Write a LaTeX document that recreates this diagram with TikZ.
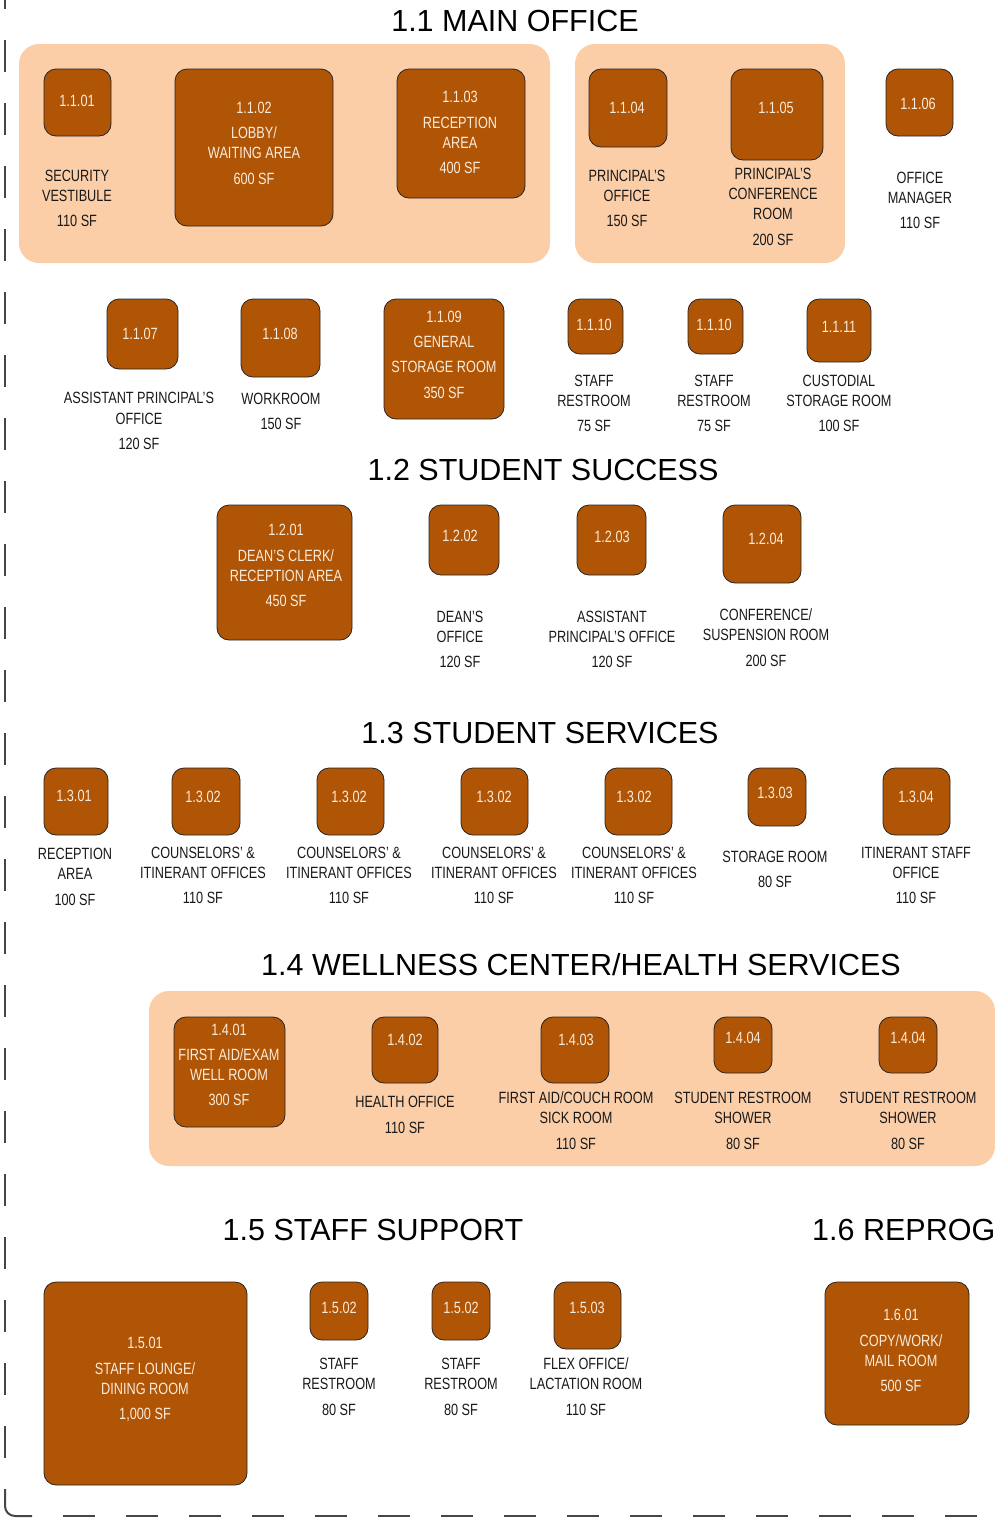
\documentclass[tikz,border=0pt]{standalone}
\usepackage{fontspec}
\setmainfont{Liberation Sans}[FakeStretch=0.78]
\newfontfamily\titlefont{Liberation Sans}
\definecolor{boxc}{RGB}{176,84,5}
\definecolor{panelc}{RGB}{252,206,168}
\definecolor{intextc}{RGB}{250,236,220}
\definecolor{labelc}{RGB}{25,25,25}
\definecolor{borderc}{RGB}{70,70,70}
\newcommand\lblfont{\fontsize{16.3}{20}\selectfont}
\newcommand\roombox[5]{\node[room, minimum width=#4pt, minimum height=#5pt] (#1) at (#2,#3) {};}
\newcommand\rtext[4]{\node[intext] (#1) at (#2,#3-6) {#4};}
\newcommand\rlabel[4]{\node[lbl] (#1) at (#2,#3-6) {#4};}
\begin{document}
\begin{tikzpicture}[x=1pt,y=-1pt,
  room/.style={draw=black!85, fill=boxc, rounded corners=12pt, line width=0.8pt, inner sep=0pt, outer sep=0pt},
  panel/.style={fill=panelc, rounded corners=20pt},
  intext/.style={font=\lblfont, text=intextc, align=center, anchor=north, inner sep=0pt, outer sep=0pt},
  lbl/.style={font=\lblfont, text=labelc, align=center, anchor=north, inner sep=0pt, outer sep=0pt},
  title/.style={font=\titlefont\fontsize{30.5}{34}\selectfont, text=black, anchor=base, inner sep=0pt},
  border/.style={draw=borderc, line width=2pt}]
\useasboundingbox (0,0) rectangle (994,1521);

% dashed frame
\draw[border, dash pattern=on 32pt off 31pt] (5,-23) -- (5,1458);
\draw[border, rounded corners=10pt] (5,1489) -- (5,1516) -- (32,1516);
\draw[border, dash pattern=on 32pt off 31pt] (63,1516) -- (1010,1516);

% panels
\fill[panel] (19,44) rectangle (550,263);
\fill[panel] (575,44) rectangle (845,263);
\fill[panel] (149,991) rectangle (995,1166);

% titles
\node[title] (h11) at (515,31) {1.1 MAIN OFFICE};
\node[title] (h12) at (543,480) {1.2 STUDENT SUCCESS};
\node[title] (h13) at (540,743) {1.3 STUDENT SERVICES};
\node[title] (h14) at (581,975) {1.4 WELLNESS CENTER/HEALTH SERVICES};
\node[title] (h15) at (373,1240) {1.5 STAFF SUPPORT};
\node[title, anchor=base west] (h16) at (812,1240) {1.6 REPROG};

% 1.1 boxes
\roombox{b101}{77.5}{102.5}{67}{67}
\roombox{b102}{254}{147.5}{158}{157}
\roombox{b103}{461}{133.5}{128}{129}
\roombox{b104}{628}{108}{78}{78}
\roombox{b105}{777}{114.5}{92}{91}
\roombox{b106}{919.5}{102.5}{67}{67}
\roombox{b107}{142.5}{334}{71}{70}
\roombox{b108}{280.5}{338}{79}{78}
\roombox{b109}{444}{359}{120}{120}
\roombox{b110a}{595.5}{326.5}{55}{55}
\roombox{b110b}{715.5}{326.5}{55}{55}
\roombox{b111}{839}{330.5}{64}{63}
% 1.2
\roombox{b201}{284.5}{572.5}{135}{135}
\roombox{b202}{464}{540}{70}{70}
\roombox{b203}{611.5}{540}{69}{70}
\roombox{b204}{762}{544}{78}{78}
% 1.3
\roombox{b301}{76}{801.5}{64}{67}
\roombox{b302a}{206}{801.5}{68}{67}
\roombox{b302b}{350.5}{801.5}{67}{67}
\roombox{b302c}{494.5}{801.5}{67}{67}
\roombox{b302d}{638.5}{801.5}{67}{67}
\roombox{b303}{777}{797}{58}{58}
\roombox{b304}{916.5}{801.5}{67}{67}
% 1.4
\roombox{b401}{229.5}{1072}{111}{110}
\roombox{b402}{405}{1050}{66}{66}
\roombox{b403}{575}{1050}{68}{66}
\roombox{b404a}{743}{1045}{58}{56}
\roombox{b404b}{908}{1045}{58}{56}
% 1.5 / 1.6
\roombox{b501}{145.5}{1383.5}{203}{203}
\roombox{b502a}{339}{1311}{58}{58}
\roombox{b502b}{461}{1311}{58}{58}
\roombox{b503}{587.5}{1315.5}{67}{67}
\roombox{b601}{897}{1353.5}{144}{143}

% texts inside boxes
\rtext{t101}{77}{101}{1.1.01}
\rtext{t102}{254}{108}{1.1.02\\[5pt]LOBBY/\\WAITING AREA\\[6pt]600 SF}
\rtext{t103}{460}{97}{1.1.03\\[6pt]RECEPTION\\AREA\\[5pt]400 SF}
\rtext{t104}{627}{108}{1.1.04}
\rtext{t105}{776}{108}{1.1.05}
\rtext{t106}{918}{104}{1.1.06}
\rtext{t107}{140}{334}{1.1.07}
\rtext{t108}{280}{334}{1.1.08}
\rtext{t109}{444}{317}{1.1.09\\[5pt]GENERAL\\[5pt]STORAGE ROOM\\[6pt]350 SF}
\rtext{t110a}{594}{325}{1.1.10}
\rtext{t110b}{714}{325}{1.1.10}
\rtext{t111}{839}{327}{1.1.11}
\rtext{t201}{286}{530}{1.2.01\\[6pt]DEAN’S CLERK/\\RECEPTION AREA\\[5pt]450 SF}
\rtext{t202}{460}{536}{1.2.02}
\rtext{t203}{612}{537}{1.2.03}
\rtext{t204}{766}{539}{1.2.04}
\rtext{t301}{74}{796}{1.3.01}
\rtext{t302a}{203}{797}{1.3.02}
\rtext{t302b}{349}{797}{1.3.02}
\rtext{t302c}{494}{797}{1.3.02}
\rtext{t302d}{634}{797}{1.3.02}
\rtext{t303}{775}{793}{1.3.03}
\rtext{t304}{916}{797}{1.3.04}
\rtext{t401}{229}{1030}{1.4.01\\[5pt]FIRST AID/EXAM\\WELL ROOM\\[5pt]300 SF}
\rtext{t402}{405}{1040}{1.4.02}
\rtext{t403}{576}{1040}{1.4.03}
\rtext{t404a}{743}{1038}{1.4.04}
\rtext{t404b}{908}{1038}{1.4.04}
\rtext{t501}{145}{1343}{1.5.01\\[6pt]STAFF LOUNGE/\\DINING ROOM\\[5pt]1,000 SF}
\rtext{t502a}{339}{1308}{1.5.02}
\rtext{t502b}{461}{1308}{1.5.02}
\rtext{t503}{587}{1308}{1.5.03}
\rtext{t601}{901}{1315}{1.6.01\\[6pt]COPY/WORK/\\MAIL ROOM\\[5pt]500 SF}

% labels below boxes
\rlabel{l101}{77}{176}{SECURITY\\VESTIBULE\\[5pt]110 SF}
\rlabel{l104}{627}{176}{PRINCIPAL’S\\OFFICE\\[5pt]150 SF}
\rlabel{l105}{773}{174}{PRINCIPAL’S\\CONFERENCE\\ROOM\\[6pt]200 SF}
\rlabel{l106}{920}{178}{OFFICE\\MANAGER\\[5pt]110 SF}
\rlabel{l107}{139}{398}{ASSISTANT PRINCIPAL’S\\[1pt]OFFICE\\[5pt]120 SF}
\rlabel{l108}{281}{399}{WORKROOM\\[5pt]150 SF}
\rlabel{l110a}{594}{381}{STAFF\\RESTROOM\\[5pt]75 SF}
\rlabel{l110b}{714}{381}{STAFF\\RESTROOM\\[5pt]75 SF}
\rlabel{l111}{839}{381}{CUSTODIAL\\STORAGE ROOM\\[5pt]100 SF}
\rlabel{l202}{460}{617}{DEAN’S\\OFFICE\\[5pt]120 SF}
\rlabel{l203}{612}{617}{ASSISTANT\\PRINCIPAL’S OFFICE\\[5pt]120 SF}
\rlabel{l204}{766}{615}{CONFERENCE/\\SUSPENSION ROOM\\[6pt]200 SF}
\rlabel{l301}{75}{854}{RECEPTION\\AREA\\[6pt]100 SF}
\rlabel{l302a}{203}{853}{COUNSELORS’ \&\\ITINERANT OFFICES\\[5pt]110 SF}
\rlabel{l302b}{349}{853}{COUNSELORS’ \&\\ITINERANT OFFICES\\[5pt]110 SF}
\rlabel{l302c}{494}{853}{COUNSELORS’ \&\\ITINERANT OFFICES\\[5pt]110 SF}
\rlabel{l302d}{634}{853}{COUNSELORS’ \&\\ITINERANT OFFICES\\[5pt]110 SF}
\rlabel{l303}{775}{857}{STORAGE ROOM\\[5pt]80 SF}
\rlabel{l304}{916}{853}{ITINERANT STAFF\\OFFICE\\[5pt]110 SF}
\rlabel{l402}{405}{1102}{HEALTH OFFICE\\[6pt]110 SF}
\rlabel{l403}{576}{1098}{FIRST AID/COUCH ROOM\\SICK ROOM\\[6pt]110 SF}
\rlabel{l404a}{743}{1098}{STUDENT RESTROOM\\SHOWER\\[6pt]80 SF}
\rlabel{l404b}{908}{1098}{STUDENT RESTROOM\\SHOWER\\[6pt]80 SF}
\rlabel{l502a}{339}{1364}{STAFF\\RESTROOM\\[6pt]80 SF}
\rlabel{l502b}{461}{1364}{STAFF\\RESTROOM\\[6pt]80 SF}
\rlabel{l503}{586}{1364}{FLEX OFFICE/\\LACTATION ROOM\\[6pt]110 SF}
\end{tikzpicture}
\end{document}
